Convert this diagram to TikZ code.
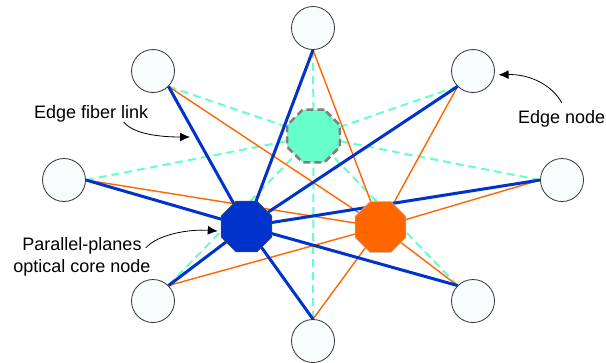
\documentclass[tikz,border=0pt]{standalone}
\usepackage{fontspec}
\setmainfont{Liberation Sans}
\usepackage{xcolor}
\usepackage{tikz}
\usetikzlibrary{shapes.geometric, arrows.meta, backgrounds}

\definecolor{coreblue}{RGB}{0,51,204}
\definecolor{coreorange}{RGB}{255,102,0}
\definecolor{coregreen}{RGB}{102,255,204}
\definecolor{edgefill}{RGB}{248,252,252}

\begin{document}
\begin{tikzpicture}[x=1bp, y=-1bp,
		edgenode/.style={circle, draw=black!80, fill=edgefill, line width=0.8bp, minimum size=43bp, inner sep=0},
		corenode/.style={regular polygon, regular polygon sides=8, minimum size=55bp, inner sep=0},
		bluelink/.style={draw=coreblue, line width=3bp},
		orangelink/.style={draw=coreorange, line width=1.4bp},
		greenlink/.style={draw=coregreen, line width=2bp, dash pattern=on 8bp off 5bp},
		callout/.style={-{Latex[length=10bp,width=9bp]}, black, line width=0.8bp},
		textlabel/.style={font=\fontsize{18bp}{22bp}\selectfont, inner sep=0}]
		\useasboundingbox (0,0) rectangle (606,362);
		\node[edgenode] (t) at (313,28) {};
		\node[edgenode] (tl) at (153,71) {};
		\node[edgenode] (tr) at (473,71) {};
		\node[edgenode] (l) at (64,180) {};
		\node[edgenode] (r) at (562,180) {};
		\node[edgenode] (bl) at (153,301) {};
		\node[edgenode] (br) at (473,301) {};
		\node[edgenode] (b) at (313,341) {};
		\node[corenode, minimum size=57bp, fill=coregreen, draw=gray, line width=2.5bp, dash pattern=on 7bp off 4bp] (green) at (313.5,136) {};
		\node[corenode, fill=coreblue, draw=black!70, line width=0.6bp] (blue) at (246.5,226.5) {};
		\node[corenode, fill=coreorange, draw=black!30, line width=0.6bp] (orange) at (380.5,227) {};
		\begin{scope}[on background layer]
			\foreach \n/\a in {t/south, tl/south east, tr/south west, l/east, r/west, bl/north east, b/north, br/north west}
				\draw[greenlink] (\n.\a) -- (green.center);
			\foreach \n/\a in {t/south, tl/south east, tr/south west, l/east, r/west, bl/north east, b/north, br/north west}
				\draw[orangelink] (\n.\a) -- (orange.center);
			\foreach \n/\a in {t/south, tl/south east, tr/south west, l/east, r/west, bl/north east, b/north, br/north west}
				\draw[bluelink] (\n.\a) -- (blue.center);
		\end{scope}
		\node[textlabel, anchor=base west] (fiberlabel) at (34,118) {Edge fiber link};
		\node[textlabel, anchor=base west] (nodelabel) at (518,123) {Edge node};
		\node[textlabel, align=center] (corelabel) at (82,256.5) {Parallel-planes\\optical core node};
		\coordinate (fibertip) at (190,137);
		\draw[callout] ([xshift=32.5bp]fiberlabel.south) .. controls (133,134) and (160,137) .. (fibertip);
		\draw[callout] ([yshift=7bp]nodelabel.north) .. controls (552,85) and (530,74) .. ([xshift=4bp]tr.-10);
		\draw[callout] ([xshift=-5bp,yshift=-11bp]corelabel.north east) .. controls (158,234) and (190,229) .. ([xshift=-3bp]blue.190);
\end{tikzpicture}
\end{document}
